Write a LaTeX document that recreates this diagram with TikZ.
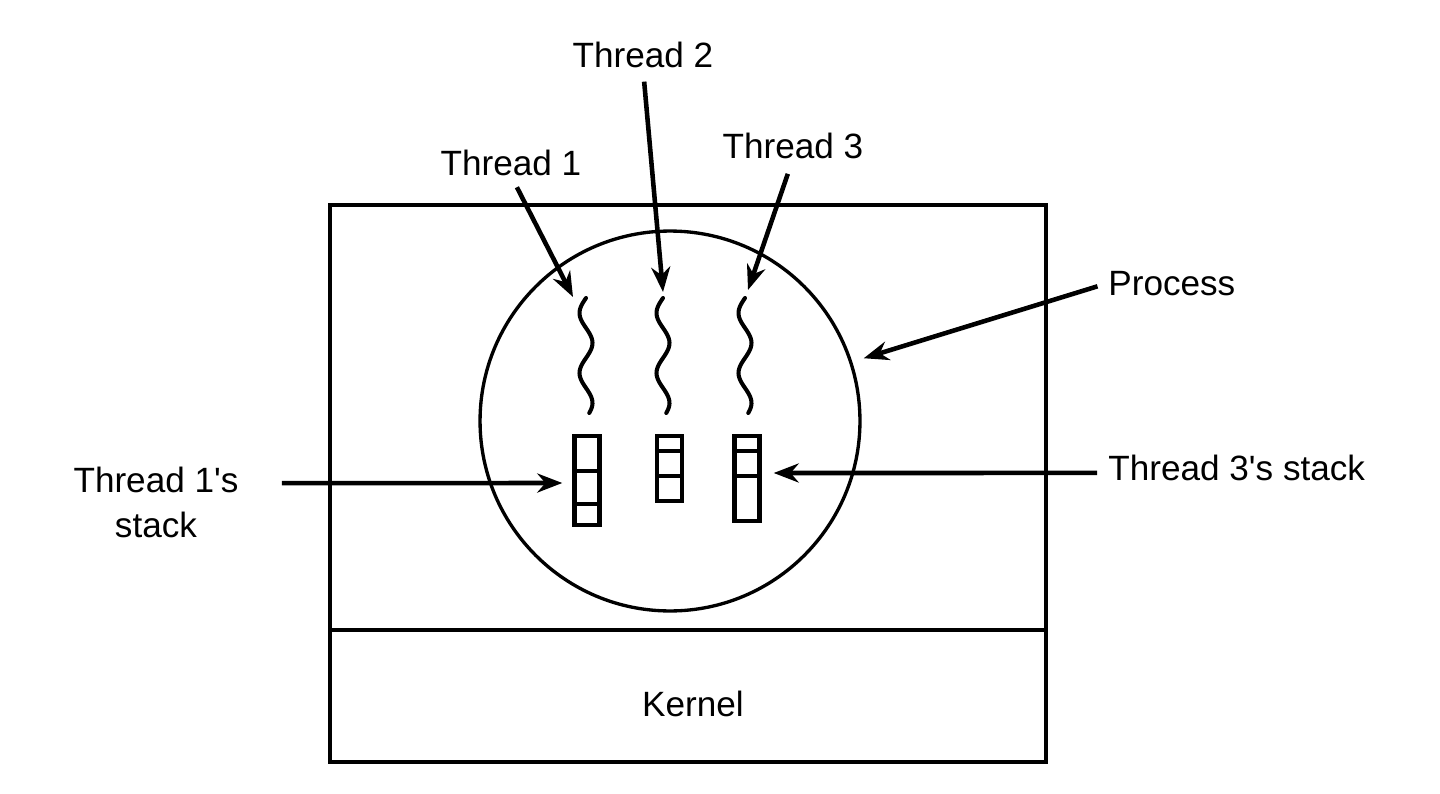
\documentclass[tikz,border=0pt]{standalone}
\usepackage{fontspec}
\setmainfont{Liberation Sans}[Ligatures=TeXOff]
\usetikzlibrary{arrows.meta,positioning}

\begin{document}
\begin{tikzpicture}[
    x=0.02cm, y=-0.02cm,
    every node/.style={font=\fontsize{20}{25.5}\selectfont, inner sep=0pt},
    outline/.style={line width=1.9pt},
    pointer/.style={line width=2.6pt, -{Stealth[length=0.5cm,width=0.38cm]}},
    stackbox/.style={draw, line width=2.5pt, minimum width=0.5cm},
    wave/.style={line width=2.3pt, line cap=round}
  ]
  \useasboundingbox (0,0) rectangle (1440,794);

  % address space and kernel
  \draw[outline] (330,205) rectangle (1046,762);
  \draw[outline] (330,630) -- (1046,630);
  \node (kernel) at (693,704) {Kernel};

  % the process
  \node[draw, circle, outline, minimum size=7.6cm] (process) at (670,421) {};

  % threads
  \foreach \cx/\n in {586/1,663/2,745/3}{
    \draw[wave] plot[domain=0:115, samples=50, smooth] ({\cx-6.5*sin(6*\x)},{298+\x});
  }
  \coordinate (head1) at (573,297);
  \coordinate (head2) at (663,292);
  \coordinate (head3) at (748,290);

  % stacks
  \node[stackbox, minimum height=1.78cm] (stack1) at (587,480.5) {};
  \node[stackbox, minimum height=1.3cm] (stack2) at (669.5,468.5) {};
  \node[stackbox, minimum height=1.7cm] (stack3) at (747,478.5) {};
  \foreach \y in {471,504}
    \draw[line width=2.5pt] (stack1.west |- 0,\y) -- (stack1.east |- 0,\y);
  \foreach \s in {2,3}{
    \foreach \y in {451,476}
      \draw[line width=2.5pt] (stack\s.west |- 0,\y) -- (stack\s.east |- 0,\y);
  }

  % labels
  \node[anchor=base] (thread1) at (511,175) {Thread 1};
  \node[anchor=base] (thread2) at (643,68) {Thread 2};
  \node[anchor=base] (thread3) at (793,158) {Thread 3};
  \node[anchor=base west] (processlabel) at (1108,295) {Process};
  \node[anchor=base west] (stack3label) at (1108,480) {Thread 3's stack};
  \node[anchor=north, align=center] (stack1label) at (156,467) {Thread 1's\\stack};

  % pointers
  \draw[pointer, shorten <=0.26cm] (thread1.south) -- (head1);
  \draw[pointer, shorten <=0.26cm] (thread2.south) -- (head2);
  \draw[pointer, shorten <=0.32cm] (thread3.south) -- (head3);
  \draw[pointer, shorten <=0.22cm, shorten >=0.24cm] (processlabel.west) -- (process.18);
  \draw[pointer, shorten <=0.22cm, shorten >=0.24cm] ([yshift=-0.11cm]stack3label.west) -- ([yshift=0.11cm]stack3.east);
  \draw[pointer, shorten <=0.86cm, shorten >=0.2cm] ([yshift=0.39cm]stack1label.east) -- ([yshift=-0.05cm]stack1.west);
\end{tikzpicture}
\end{document}
